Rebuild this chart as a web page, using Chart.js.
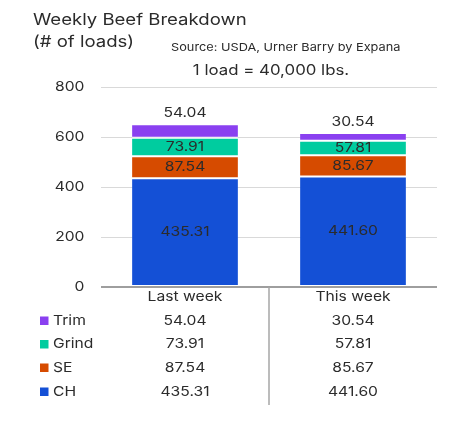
<!DOCTYPE html>
<html>
<head>
<meta charset="utf-8">
<script src="https://cdn.jsdelivr.net/npm/chart.js@4.4.0/dist/chart.umd.min.js"></script>
<style>
  html, body { margin: 0; padding: 0; background: #fff; }
  #wrap { width: 449px; height: 424px; position: relative; }
</style>
</head>
<body>
<div id="wrap"><canvas id="c" width="449" height="424"></canvas></div>
<script>
const categories = ['Last week', 'This week'];
const seriesNames = ['CH', 'SE', 'Grind', 'Trim'];
const chValues = [435.31, 441.60];
const seValues = [87.54, 85.67];
const grindValues = [73.91, 57.81];
const trimValues = [54.04, 30.54];
const yTicks = [0, 200, 400, 600, 800];
const colors = { CH: '#1450D6', SE: '#D64B00', Grind: '#00CC9F', Trim: '#8A40F0' };

const FONT = 'Inter, "Noto Sans", sans-serif';
const TEXT = '#2b2b2b';
const SX = 1.16; // horizontal stretch for the wide typeface of the original

const datasets = [
  { label: 'CH', data: chValues },
  { label: 'SE', data: seValues },
  { label: 'Grind', data: grindValues },
  { label: 'Trim', data: trimValues }
].map(d => ({
  ...d,
  backgroundColor: colors[d.label],
  borderColor: '#ffffff',
  borderWidth: { top: 1, bottom: 1, left: 0, right: 0 },
  borderSkipped: false,
  barPercentage: 0.63,
  categoryPercentage: 1.0
}));

const fmt = v => v.toFixed(2);

function txt(ctx, s, x, y, size, align) {
  ctx.save();
  ctx.font = size + 'px ' + FONT;
  ctx.textAlign = align;
  ctx.textBaseline = 'middle';
  ctx.translate(x, y);
  ctx.scale(SX, 1);
  ctx.fillText(s, 0, 0);
  ctx.restore();
}

const overlay = {
  id: 'overlay',
  afterDraw(chart) {
    const ctx = chart.ctx;
    const area = chart.chartArea;
    const x = chart.scales.x;
    const y = chart.scales.y;
    ctx.save();
    ctx.fillStyle = TEXT;
    // titles
    txt(ctx, 'Weekly Beef Breakdown', 33, 20, 16, 'left');
    txt(ctx, '(# of loads)', 33, 42, 16, 'left');
    txt(ctx, 'Source: USDA, Urner Barry by Expana', 171, 48, 11, 'left');
    txt(ctx, '1 load = 40,000 lbs.', 271, 71, 14.5, 'center');

    // y tick labels
    yTicks.forEach(v => txt(ctx, String(v), 84.5, y.getPixelForValue(v), 13.5, 'right'));

    // bar labels
    chart.data.datasets.forEach((ds, di) => {
      const meta = chart.getDatasetMeta(di);
      meta.data.forEach((bar, i) => {
        const v = ds.data[i];
        const ly = ds.label === 'Trim' ? bar.y - 11 : (bar.y + bar.base) / 2;
        txt(ctx, fmt(v), bar.x, ly, 13.5, 'center');
      });
    });

    // data table
    const rowY = [320.5, 344, 367.5, 391.5];
    const headerY = 297;
    categories.forEach((c, i) => txt(ctx, c, x.getPixelForValue(i), headerY, 13.5, 'center'));
    const order = ['Trim', 'Grind', 'SE', 'CH'];
    order.forEach((name, r) => {
      const ds = chart.data.datasets.find(d => d.label === name);
      categories.forEach((c, i) => txt(ctx, fmt(ds.data[i]), x.getPixelForValue(i), rowY[r], 13.5, 'center'));
      ctx.fillStyle = colors[name];
      ctx.fillRect(40, rowY[r] - 4, 8.5, 8.5);
      ctx.fillStyle = TEXT;
      txt(ctx, name, 53, rowY[r], 13.5, 'left');
    });
    // separator
    const midX = (area.left + area.right) / 2;
    ctx.strokeStyle = '#a6a6a6';
    ctx.lineWidth = 1.5;
    ctx.beginPath();
    ctx.moveTo(midX, area.bottom);
    ctx.lineTo(midX, 405);
    ctx.stroke();
    ctx.restore();
  }
};

new Chart(document.getElementById('c'), {
  type: 'bar',
  data: { labels: categories, datasets },
  options: {
    responsive: false,
    animation: false,
    devicePixelRatio: 1,
    layout: { padding: { top: 87, bottom: 137, right: 12, left: 0 } },
    plugins: { legend: { display: false }, tooltip: { enabled: false } },
    scales: {
      x: { stacked: true, display: false },
      y: {
        stacked: true,
        min: 0, max: 800,
        afterFit(s) { s.width = 101; },
        afterBuildTicks(s) { s.ticks = yTicks.map(v => ({ value: v })); },
        border: { display: false },
        grid: {
          drawTicks: false,
          color: c => c.tick && c.tick.value === 0 ? '#9e9e9e' : '#d9d9d9',
          lineWidth: c => c.tick && c.tick.value === 0 ? 2 : 1
        },
        ticks: { display: false }
      }
    }
  },
  plugins: [overlay]
});
</script>
</body>
</html>
